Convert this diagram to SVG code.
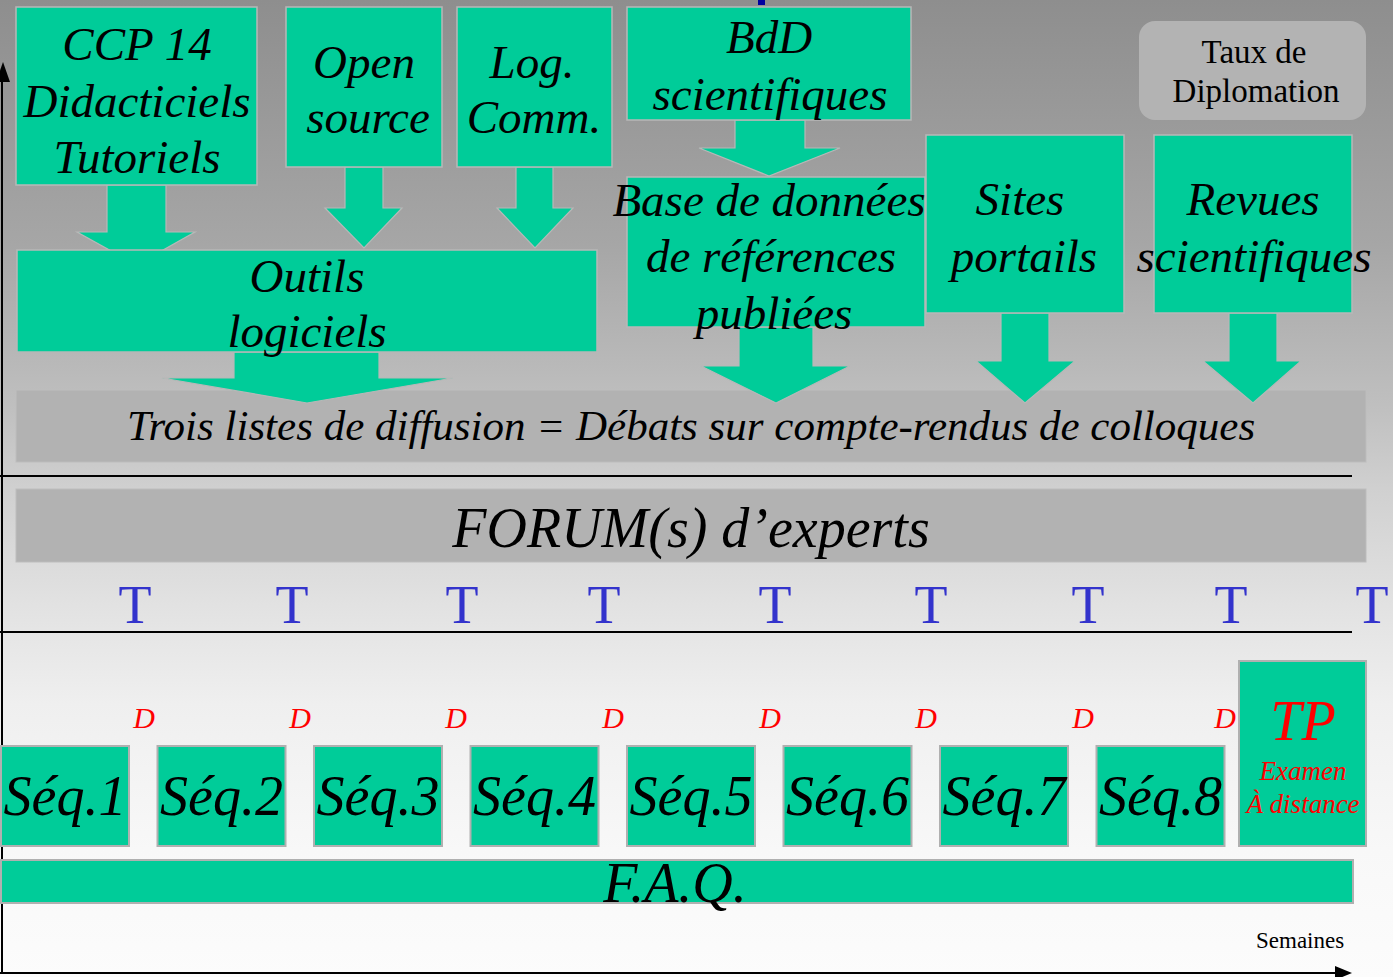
<svg xmlns="http://www.w3.org/2000/svg" width="1393" height="977" viewBox="0 0 1393 977">
<defs>
<linearGradient id="bg" x1="0" y1="0" x2="0" y2="1">
<stop offset="0" stop-color="#8e8e8e"/>
<stop offset="0.25" stop-color="#a6a6a6"/>
<stop offset="0.42" stop-color="#c0c0c0"/>
<stop offset="0.5" stop-color="#d0d0d0"/>
<stop offset="0.62" stop-color="#e2e2e2"/>
<stop offset="0.72" stop-color="#efefef"/>
<stop offset="0.87" stop-color="#f8f8f8"/>
<stop offset="1" stop-color="#fcfcfc"/>
</linearGradient>
<style>
.g{fill:#00cc99;stroke:#b8b8b8;stroke-width:1.5}
.band{fill:#b2b2b2;stroke:#bdbdbd;stroke-width:1}
.seq{fill:#00cc99;stroke:#b0b0b0;stroke-width:2}
.arr{fill:#00cc99;stroke:#b8b8b8;stroke-width:1.2}
.t{font-family:"Liberation Serif","Times New Roman",serif;font-style:italic;fill:#000;text-anchor:middle}
.b{font-size:47px}
.s{font-size:56px}
.d{font-family:"Liberation Serif","Times New Roman",serif;font-style:italic;fill:#ff0000;font-size:30px;text-anchor:middle}
.tt{font-family:"Liberation Serif","Times New Roman",serif;fill:#3333cc;font-size:54px;text-anchor:middle}
.ax{stroke:#000;stroke-width:2;fill:none}
</style>
</defs>
<rect x="0" y="0" width="1393" height="977" fill="url(#bg)"/>
<rect x="758" y="0" width="7" height="5" fill="#0000a0"/>

<g id="axes">
<line class="ax" x1="2" y1="75" x2="2" y2="973"/>
<polygon points="3,62 10,82 -4,82" fill="#000"/>
<line class="ax" x1="0" y1="973" x2="1337" y2="973"/>
<polygon points="1335,966 1352,973 1335,980" fill="#000"/>
<line class="ax" x1="0" y1="476" x2="1352" y2="476"/>
<line class="ax" x1="0" y1="632" x2="1352" y2="632"/>
</g>

<g id="listes">
<rect class="band" x="16" y="390" width="1350" height="72"/>
<text class="t" x="691" y="440" font-size="43">Trois listes de diffusion = Débats sur compte-rendus de colloques</text>
</g>

<g id="forum">
<rect class="band" x="16" y="489" width="1350" height="73"/>
<text class="t s" x="691" y="547">FORUM(s) d’experts</text>
</g>

<g id="connectors">
<polygon class="arr" points="107,185 166,185 166,232 195,232 136.5,265 77,232 107,232"/>
<polygon class="arr" points="345,167 383,167 383,208 402,208 364,248 325,208 345,208"/>
<polygon class="arr" points="516,167 553,167 553,208 573,208 535,248 497,208 516,208"/>
<polygon class="arr" points="735,120 805,120 805,148 840,148 769,176 699,148 735,148"/>
<polygon class="arr" points="234,352 379,352 379,378 453,378 307,403 162,378 234,378"/>
<polygon class="arr" points="739,327 813,327 813,366 850,366 776,403 701,366 739,366"/>
<polygon class="arr" points="1001,313 1049,313 1049,361 1075,361 1025,403 976,361 1001,361"/>
<polygon class="arr" points="1229,313 1277,313 1277,361 1301,361 1253,403 1203,361 1229,361"/>
</g>

<g id="ccp14">
<rect class="g" x="16" y="7" width="241" height="178"/>
<text class="t b" x="137" y="60">CCP 14</text>
<text class="t b" x="137" y="117">Didacticiels</text>
<text class="t b" x="137" y="173">Tutoriels</text>
</g>
<g id="opensource">
<rect class="g" x="286" y="7" width="156" height="160"/>
<text class="t b" x="364" y="78">Open</text>
<text class="t b" x="368" y="133">source</text>
</g>
<g id="logcomm">
<rect class="g" x="457" y="7" width="155" height="160"/>
<text class="t b" x="532" y="78">Log.</text>
<text class="t b" x="534" y="133">Comm.</text>
</g>
<g id="bdd">
<rect class="g" x="627" y="7" width="284" height="113"/>
<text class="t b" x="769" y="53">BdD</text>
<text class="t b" x="770" y="110">scientifiques</text>
</g>
<g id="taux">
<rect x="1139" y="21" width="227" height="99" rx="16" fill="#b3b3b3"/>
<text x="1254" y="63" font-family="'Liberation Serif','Times New Roman',serif" font-size="33" text-anchor="middle">Taux de</text>
<text x="1256" y="102" font-family="'Liberation Serif','Times New Roman',serif" font-size="33" text-anchor="middle">Diplomation</text>
</g>
<g id="outils">
<rect class="g" x="17" y="250" width="580" height="102"/>
<text class="t b" x="307" y="292">Outils</text>
<text class="t b" x="307" y="347">logiciels</text>
</g>
<g id="basedonnees">
<rect class="g" x="627" y="177" width="298" height="150"/>
<text class="t b" x="769" y="216">Base de données</text>
<text class="t b" x="771" y="272">de références</text>
<text class="t b" x="774" y="329">publiées</text>
</g>
<g id="sites">
<rect class="g" x="926" y="135" width="198" height="178"/>
<text class="t b" x="1020" y="215">Sites</text>
<text class="t b" x="1024" y="272">portails</text>
</g>
<g id="revues">
<rect class="g" x="1154" y="135" width="198" height="178"/>
<text class="t b" x="1253" y="215">Revues</text>
<text class="t b" x="1254" y="272">scientifiques</text>
</g>

<g id="tutorats">
<text class="tt" x="135" y="623">T</text>
<text class="tt" x="292" y="623">T</text>
<text class="tt" x="462" y="623">T</text>
<text class="tt" x="604" y="623">T</text>
<text class="tt" x="775" y="623">T</text>
<text class="tt" x="931" y="623">T</text>
<text class="tt" x="1088" y="623">T</text>
<text class="tt" x="1231" y="623">T</text>
<text class="tt" x="1372" y="623">T</text>
</g>

<g id="devoirs">
<text class="d" x="144" y="728">D</text>
<text class="d" x="300" y="728">D</text>
<text class="d" x="456" y="728">D</text>
<text class="d" x="613" y="728">D</text>
<text class="d" x="770" y="728">D</text>
<text class="d" x="926" y="728">D</text>
<text class="d" x="1083" y="728">D</text>
<text class="d" x="1225" y="728">D</text>
</g>

<g id="seq1"><rect class="seq" x="1" y="746" width="128" height="100"/><text class="t s" x="65" y="815">Séq.1</text></g>
<g id="seq2"><rect class="seq" x="157.5" y="746" width="128" height="100"/><text class="t s" x="221.5" y="815">Séq.2</text></g>
<g id="seq3"><rect class="seq" x="314" y="746" width="128" height="100"/><text class="t s" x="378" y="815">Séq.3</text></g>
<g id="seq4"><rect class="seq" x="470.5" y="746" width="128" height="100"/><text class="t s" x="534.5" y="815">Séq.4</text></g>
<g id="seq5"><rect class="seq" x="627" y="746" width="128" height="100"/><text class="t s" x="691" y="815">Séq.5</text></g>
<g id="seq6"><rect class="seq" x="783.5" y="746" width="128" height="100"/><text class="t s" x="847.5" y="815">Séq.6</text></g>
<g id="seq7"><rect class="seq" x="940" y="746" width="128" height="100"/><text class="t s" x="1004" y="815">Séq.7</text></g>
<g id="seq8"><rect class="seq" x="1096.5" y="746" width="128" height="100"/><text class="t s" x="1160.5" y="815">Séq.8</text></g>

<g id="tp">
<rect class="seq" x="1239" y="661" width="127" height="185"/>
<text x="1303" y="740" font-family="'Liberation Serif','Times New Roman',serif" font-style="italic" font-size="56" fill="#ff0000" text-anchor="middle">TP</text>
<text x="1303" y="780" font-family="'Liberation Serif','Times New Roman',serif" font-style="italic" font-size="27" fill="#ff0000" text-anchor="middle">Examen</text>
<text x="1303" y="813" font-family="'Liberation Serif','Times New Roman',serif" font-style="italic" font-size="27" fill="#ff0000" text-anchor="middle">À distance</text>
</g>

<g id="faq">
<rect class="seq" x="1" y="860" width="1352" height="43"/>
<text class="t s" x="675" y="902">F.A.Q.</text>
</g>

<text x="1256" y="948" font-family="'Liberation Serif','Times New Roman',serif" font-size="23">Semaines</text>
</svg>
